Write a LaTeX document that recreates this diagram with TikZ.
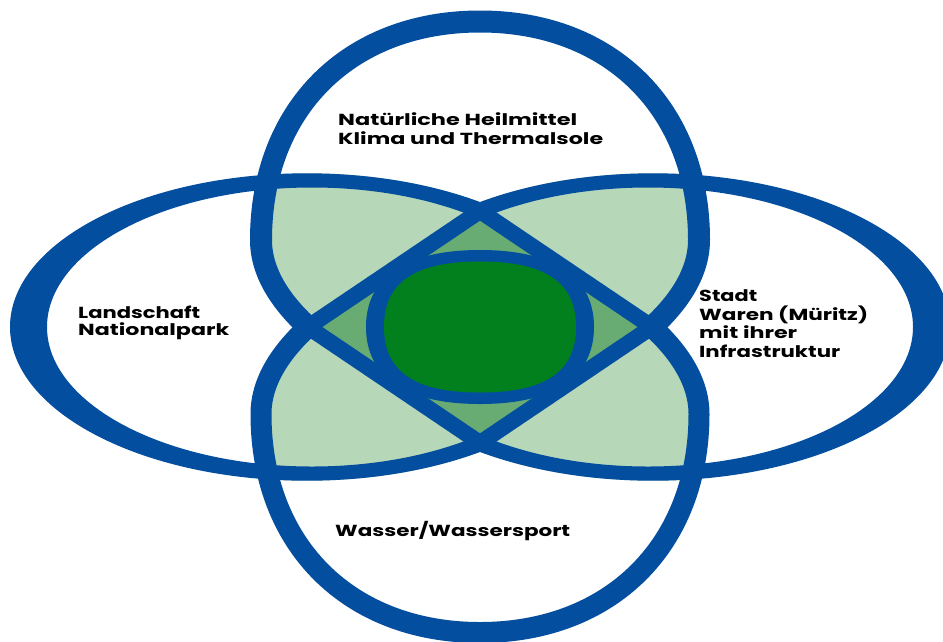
\documentclass[tikz,border=0pt]{standalone}
\usepackage{fontspec}
\setmainfont{Poppins}
\usepackage{graphicx}
\definecolor{vblue}{RGB}{4,78,160}
\definecolor{vlight}{RGB}{183,215,185}
\definecolor{vmid}{RGB}{104,171,115}
\definecolor{vdark}{RGB}{3,128,30}
\tikzset{
  lab/.style={anchor=base west, inner sep=0pt, font=\fontsize{16}{19}\selectfont\bfseries, text=black},
  band/.style={vblue, line width=#1},
}
\newcommand{\wtxt}[2]{\resizebox{#1pt}{\height}{#2}}
\begin{document}
\begin{tikzpicture}[x=1pt,y=-1pt]
\useasboundingbox (0,0) rectangle (943,641);
\fill[white] (0,0) rectangle (943,641);

\def\Tpath{(308,327) .. controls (284,305) and (261,275) .. (261,240) .. controls (261,109) and (349,21.5) .. (480,21.5) .. controls (611,21.5) and (699,109) .. (699,240) .. controls (699,275) and (676,305) .. (652,327)}
\def\Bpath{(308,327) .. controls (284,349) and (261,379) .. (261,414) .. controls (261,545) and (349,632.5) .. (480,632.5) .. controls (611,632.5) and (699,545) .. (699,414) .. controls (699,379) and (676,349) .. (652,327)}
\def\Lregion{(480,202.1) arc[start angle=-54.37, end angle=-305.63, x radius=297, y radius=153.7] -- (480,443) -- (652,327) -- (480,211) -- cycle}
\def\Rregion{(480,202.1) arc[start angle=-125.63, end angle=125.63, x radius=297, y radius=153.7] -- (480,443) -- (308,327) -- (480,211) -- cycle}

% light green petals
\begin{scope}
  \clip \Tpath -- (480,443) -- cycle;
  \fill[vlight] \Lregion;
  \fill[vlight] \Rregion;
\end{scope}
\begin{scope}
  \clip \Bpath -- (480,211) -- cycle;
  \fill[vlight] \Lregion;
  \fill[vlight] \Rregion;
\end{scope}
% medium green centre diamond
\fill[vmid] (480,211) -- (652,327) -- (480,443) -- (308,327) -- cycle;

% left and right ellipse bands
\begin{scope}
  \clip (0,0) rectangle (480,641);
  \fill[vblue, even odd rule] (307,327) ellipse[x radius=297, y radius=153.7]
                              (312,327) ellipse[x radius=265, y radius=139.5];
\end{scope}
\begin{scope}
  \clip (480,0) rectangle (943,641);
  \fill[vblue, even odd rule] (653,327) ellipse[x radius=297, y radius=153.7]
                              (648,327) ellipse[x radius=265, y radius=139.5];
\end{scope}
% top and bottom circle bands
\draw[band=22pt] \Tpath;
\draw[band=21pt] \Bpath;
% diamond edges
\draw[band=16pt, line cap=round, line join=round] (480,211) -- (652,327) -- (480,443) -- (308,327) -- cycle;
% inner rounded shape
\fill[vblue] (594,327) .. controls (594,276.95) and (554.1,250) .. (480,250)
  .. controls (405.9,250) and (366,276.95) .. (366,327)
  .. controls (366,377.05) and (405.9,404) .. (480,404)
  .. controls (554.1,404) and (594,377.05) .. (594,327) -- cycle;
\fill[vdark] (576,327) .. controls (576,282.5) and (545.3,261.5) .. (480,261.5)
  .. controls (414.7,261.5) and (384,282.5) .. (384,327)
  .. controls (384,371.5) and (414.7,392.5) .. (480,392.5)
  .. controls (545.3,392.5) and (576,371.5) .. (576,327) -- cycle;

% labels
\node[lab] (t1) at (338,125) {\wtxt{239}{Natürliche Heilmittel}};
\node[lab] (t2) at (338,144) {\wtxt{265}{Klima und Thermalsole}};
\node[lab] (l1) at (78,318) {\wtxt{122}{Landschaft}};
\node[lab] (l2) at (78,335) {\wtxt{151}{Nationalpark}};
\node[lab] (r1) at (699,301) {\wtxt{58}{Stadt}};
\node[lab] (r2) at (699,320) {\wtxt{169}{Waren (Müritz)}};
\node[lab] (r3) at (699,338) {\wtxt{98}{mit ihrer}};
\node[lab] (r4) at (699,357) {\wtxt{141}{Infrastruktur}};
\node[lab] (b1) at (335,536) {\wtxt{235}{Wasser/Wassersport}};
\end{tikzpicture}
\end{document}
